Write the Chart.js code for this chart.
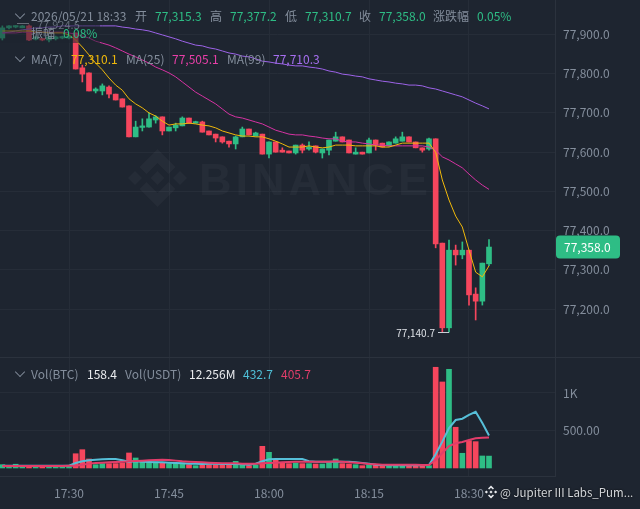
<!DOCTYPE html>
<html>
<head>
<meta charset="utf-8">
<script src="https://cdn.jsdelivr.net/npm/chart.js@4"></script>
<style>
  html, body { margin: 0; padding: 0; background: #1e2530; width: 640px; height: 509px; overflow: hidden; }
  body { position: relative; font-family: "Noto Sans CJK SC", "Noto Sans", sans-serif; font-size: 12px; }
  canvas { position: absolute; left: 0; }
  #priceChart { top: 0; }
  #volumeChart { top: 357px; }
  .t { position: absolute; white-space: nowrap; line-height: 16px; color: #848e9c; }
  .up { color: #2ebd85; }
  .dim { position: absolute; left: 0; top: 24px; width: 100px; height: 19px; background: rgba(30, 37, 48, 0.55); }
  .chev { position: absolute; left: 16px; width: 7px; height: 7px; border-right: 1px solid #848e9c; border-bottom: 1px solid #848e9c; transform: rotate(45deg) scale(0.9); }
  .rule { position: absolute; left: 0; top: 357px; width: 640px; height: 1px; background: #2b323d; }
</style>
</head>
<body>
<canvas id="priceChart" width="640" height="357"></canvas>
<canvas id="volumeChart" width="640" height="152"></canvas>
<div class="rule"></div>
<div class="dim"></div>

<div class="chev" style="top:10px"></div>
<span class="t" style="left:31px;top:8px">2026/05/21 18:33</span>
<span class="t" style="left:135px;top:8px">开</span><span class="t up" style="left:155px;top:8px">77,315.3</span>
<span class="t" style="left:210px;top:8px">高</span><span class="t up" style="left:230px;top:8px">77,377.2</span>
<span class="t" style="left:285px;top:8px">低</span><span class="t up" style="left:305px;top:8px">77,310.7</span>
<span class="t" style="left:359px;top:8px">收</span><span class="t up" style="left:379px;top:8px">77,358.0</span>
<span class="t" style="left:433px;top:8px">涨跌幅</span><span class="t up" style="left:477px;top:8px">0.05%</span>
<span class="t" style="left:37px;top:16px;font-size:11px;opacity:.7">77,924.5</span>
<span class="t" style="left:31px;top:25px">振幅</span><span class="t up" style="left:63px;top:25px">0.08%</span>

<div class="chev" style="top:53px"></div>
<span class="t" style="left:31px;top:51px">MA(7)</span><span class="t" style="left:71px;top:51px;color:#f0b90b">77,310.1</span>
<span class="t" style="left:126px;top:51px">MA(25)</span><span class="t" style="left:172px;top:51px;color:#e83fa8">77,505.1</span>
<span class="t" style="left:227px;top:51px">MA(99)</span><span class="t" style="left:273px;top:51px;color:#a66ff0">77,710.3</span>

<div class="chev" style="top:368px"></div>
<span class="t" style="left:31px;top:366px">Vol(BTC)</span><span class="t" style="left:87px;top:366px;color:#eaecef">158.4</span>
<span class="t" style="left:125px;top:366px">Vol(USDT)</span><span class="t" style="left:189px;top:366px;color:#eaecef">12.256M</span>
<span class="t" style="left:243px;top:366px;color:#4fc0d8">432.7</span><span class="t" style="left:281px;top:366px;color:#e23d6a">405.7</span>

<svg style="position:absolute;left:484px;top:485px" width="14" height="14" viewBox="0 0 14 14" fill="#eaecef">
  <path d="M7 0.5 10 3.5 8.9 4.6 7 2.7 5.1 4.6 4 3.5ZM7 13.5 4 10.5 5.1 9.4 7 11.3 8.9 9.4 10 10.5ZM7 5.4 8.6 7 7 8.6 5.4 7ZM2.4 5.4 4 7 2.4 8.6 0.8 7ZM11.6 5.4 13.2 7 11.6 8.6 10 7Z"/>
</svg>
<span class="t" style="left:500px;top:484px;font-size:11.5px;color:#d5d8dc;text-shadow:0 0 2px #000">@ Jupiter III Labs_Pum...</span>

<script>
// one candle per minute, first one at 17:20
const firstMinute = -10;
const timeTickMinutes = [0, 15, 30, 45, 60];
const timeTickLabels = ['17:30', '17:45', '18:00', '18:15', '18:30'];
const priceTicks = [77200, 77300, 77400, 77500, 77600, 77700, 77800, 77900];
const volumeTicks = [500, 1000];
const volumeTickLabels = ['500.00', '1K'];

const opens = [77891,77917,77919,77917,77922,77888,77889,77886,77889,77891,77891,77904,77815,77802,77756,77756,77766,77748,77736,77718,
  77639,77663,77664,77682,77690,77654,77662,77667,77687,77674,77677,77654,77646,77639,77628,77621,77639,77659,77641,77646,
  77595,77626,77605,77603,77598,77618,77608,77616,77598,77605,77628,77639,77631,77595,77600,77598,77631,77623,77616,77623,
  77628,77639,77626,77611,77608,77634,77368,77152,77350,77338,77350,77238,77220,77315.3];
const closes = [77917,77922,77922,77922,77886,77894,77886,77894,77894,77894,77896,77812,77799,77756,77761,77769,77748,77733,77715,77639,
  77664,77667,77685,77690,77654,77664,77669,77687,77674,77677,77651,77644,77636,77626,77621,77639,77659,77644,77649,77595,
  77626,77600,77600,77598,77618,77605,77613,77600,77608,77631,77639,77626,77598,77600,77595,77631,77618,77613,77626,77634,
  77639,77626,77611,77605,77634,77366,77152,77350,77338,77350,77236,77220,77317,77358];
const highs = [77922,77923,77923,77923,77924.5,77896,77889,77896,77896,77896,77899,77904,77822,77802,77764,77774,77769,77748,77736,77718,
  77679,77685,77700,77693,77690,77664,77674,77690,77687,77679,77679,77654,77646,77639,77628,77641,77664,77659,77651,77646,
  77626,77626,77611,77603,77618,77621,77626,77616,77608,77631,77651,77639,77631,77611,77600,77636,77631,77623,77626,77639,
  77651,77639,77626,77611,77636,77634,77368,77376,77363,77371,77350,77254,77317,77377.2];
const lows = [77886,77914,77917,77917,77884,77886,77884,77881,77886,77889,77889,77812,77779,77756,77751,77746,77738,77733,77715,77639,
  77639,77654,77664,77674,77644,77654,77654,77667,77674,77674,77651,77644,77626,77623,77613,77608,77639,77644,77641,77595,
  77585,77600,77600,77598,77595,77598,77605,77598,77585,77593,77628,77626,77598,77595,77595,77598,77605,77613,77616,77623,
  77628,77626,77611,77600,77605,77356,77141,77140.7,77312,77328,77210,77172,77210,77310.7];

const ma7 = [77909,77909,77909,77909,77909,77906,77906,77904,77904,77904,77899,77886,77868,77848,77827,77810,77789,77771,77758,77736,
  77723,77713,77700,77692,77679,77669,77672,77672,77674,77672,77669,77667,77662,77654,77649,77644,77641,77641,77639,77639,
  77634,77628,77621,77613,77613,77613,77616,77613,77611,77613,77618,77618,77618,77616,77616,77616,77616,77613,77613,77618,
  77623,77623,77623,77623,77623,77600,77529,77478,77437,77409,77350,77294,77282,77310.1];
const ma25 = [77904,77904,77904,77906,77906,77906,77906,77906,77906,77906,77904,77901,77896,77891,77883,77878,77873,77866,77858,77850,
  77843,77835,77827,77817,77810,77802,77792,77779,77766,77753,77743,77733,77723,77710,77697,77690,77687,77682,77677,77672,
  77664,77656,77651,77646,77644,77644,77641,77639,77636,77634,77634,77628,77626,77626,77623,77621,77618,77618,77616,77616,
  77616,77616,77616,77616,77613,77605,77588,77580,77570,77560,77544,77529,77516,77505.1];
const ma99 = [77904,77906,77909,77912,77914,77917,77917,77919,77919,77922,77922,77922,77922,77922,77922,77922,77922,77922,77919,77917,
  77914,77912,77909,77904,77899,77894,77889,77883,77878,77873,77871,77866,77863,77858,77853,77850,77845,77843,77838,77832,
  77830,77827,77825,77822,77820,77820,77817,77815,77812,77807,77804,77799,77797,77794,77792,77787,77784,77781,77779,77776,
  77774,77771,77771,77769,77764,77761,77756,77751,77746,77741,77733,77725,77718,77710.3];

const volumes = [44,22,50,22,22,20,22,20,20,20,20,190,244,120,44,58,58,58,67,200,
  133,80,80,80,75,58,67,67,44,31,44,44,44,44,50,89,44,31,40,289,
  209,102,75,58,67,58,58,53,53,75,120,58,53,44,31,44,40,36,36,31,
  31,31,31,31,31,1343,1147,1316,543,196,364,351,160,158.4];
const volumeMaFast = [31,31,31,31,31,31,31,31,31,31,31,67,89,102,111,115,120,120,102,84,
  89,84,80,75,75,71,67,62,58,58,53,58,58,53,53,53,49,44,58,89,
  115,120,120,120,120,120,89,84,84,84,84,84,84,75,67,58,44,40,36,36,
  36,36,36,36,40,183,351,533,640,657,707,750,600,432.7];
const volumeMaSlow = [27,27,27,27,27,27,27,27,27,27,31,31,44,58,67,71,75,80,84,89,
  93,98,102,107,111,107,98,89,84,80,75,71,67,62,62,62,58,58,58,62,
  67,71,75,80,84,84,84,84,84,84,89,84,75,71,62,53,49,44,44,44,
  44,44,44,40,40,107,200,293,329,347,373,396,404,405.7];

const upColor = '#2ebd85';
const downColor = '#f6465d';
const gridColor = '#262d38';
const axisColor = '#2b323d';
const tickColor = '#848e9c';
const fontFamily = '"Noto Sans CJK SC", "Noto Sans", sans-serif';

const minuteOf = i => firstMinute + i;
const candleColors = closes.map((c, i) => (c >= opens[i] ? upColor : downColor));
const toPoints = (arr) => arr.map((v, i) => ({ x: minuteOf(i), y: v }));
const formatPrice = v => v.toLocaleString('en-US', { minimumFractionDigits: 1, maximumFractionDigits: 1 });

function timeAxis(showLabels) {
    return {
        type: 'linear',
        offset: false,
        min: -10.35,
        max: 72.9,
        afterBuildTicks: scale => { scale.ticks = timeTickMinutes.map(value => ({ value })); },
        afterFit: scale => {
            scale.paddingLeft = 0;
            scale.paddingRight = 0;
            scale.height = showLabels ? 33 : 0;
        },
        grid: { color: gridColor, drawTicks: false, offset: false },
        border: { display: showLabels, color: axisColor },
        ticks: {
            display: showLabels,
            autoSkip: false,
            maxRotation: 0,
            padding: 10,
            color: tickColor,
            font: { family: fontFamily, size: 12 },
            callback: value => timeTickLabels[timeTickMinutes.indexOf(value)]
        }
    };
}

function valueAxis(min, max, tickValues, labelOf) {
    return {
        position: 'right',
        min: min,
        max: max,
        afterBuildTicks: scale => { scale.ticks = tickValues.map(value => ({ value })); },
        afterFit: scale => {
            scale.width = 85;
            scale.paddingTop = 0;
            scale.paddingBottom = 0;
        },
        grid: { color: gridColor, drawTicks: false },
        border: { color: axisColor },
        ticks: {
            padding: 8,
            color: tickColor,
            font: { family: fontFamily, size: 12 },
            callback: labelOf
        }
    };
}

function maLine(values, color, width) {
    return {
        type: 'line',
        data: toPoints(values),
        borderColor: color,
        borderWidth: width,
        pointRadius: 0,
        tension: 0,
        order: 0
    };
}

// faint logo and name behind the candles
const watermark = {
    id: 'watermark',
    beforeDatasetsDraw(chart) {
        const ctx = chart.ctx;
        ctx.save();
        ctx.fillStyle = 'rgba(255,255,255,0.035)';
        const diamond = (cx, cy, r) => {
            ctx.beginPath();
            ctx.moveTo(cx, cy - r);
            ctx.lineTo(cx + r, cy);
            ctx.lineTo(cx, cy + r);
            ctx.lineTo(cx - r, cy);
            ctx.closePath();
            ctx.fill();
        };
        const chevron = (cx, cy, dir) => {
            ctx.beginPath();
            ctx.moveTo(cx, cy + dir * 29);
            ctx.lineTo(cx + 18, cy + dir * 11);
            ctx.lineTo(cx + 11, cy + dir * 4);
            ctx.lineTo(cx, cy + dir * 15);
            ctx.lineTo(cx - 11, cy + dir * 4);
            ctx.lineTo(cx - 18, cy + dir * 11);
            ctx.closePath();
            ctx.fill();
        };
        diamond(157.5, 178, 7);
        diamond(135, 178, 7);
        diamond(180, 178, 7);
        chevron(157.5, 178, -1);
        chevron(157.5, 178, 1);
        ctx.font = 'bold 45px "Liberation Sans", sans-serif';
        ctx.letterSpacing = '4px';
        ctx.textBaseline = 'alphabetic';
        ctx.fillText('BINANCE', 199, 195);
        ctx.restore();
    }
};

// high / low callouts and the last price tag
const priceMarks = {
    id: 'priceMarks',
    afterDraw(chart) {
        const ctx = chart.ctx;
        const xs = chart.scales.x;
        const ys = chart.scales.y;
        const last = closes.length - 1;
        ctx.save();

        const lowIndex = lows.indexOf(Math.min(...lows));
        const lowX = xs.getPixelForValue(minuteOf(lowIndex));
        const lowY = Math.round(ys.getPixelForValue(lows[lowIndex])) + 0.5;
        ctx.strokeStyle = '#c9ced6';
        ctx.lineWidth = 1;
        ctx.beginPath();
        ctx.moveTo(lowX - 11, lowY);
        ctx.lineTo(lowX, lowY);
        ctx.stroke();
        ctx.fillStyle = '#dfe3e8';
        ctx.font = '10px ' + fontFamily;
        ctx.textAlign = 'right';
        ctx.textBaseline = 'middle';
        ctx.fillText(formatPrice(lows[lowIndex]), lowX - 14, lowY + 1);

        const highIndex = highs.indexOf(Math.max(...highs));
        const highX = xs.getPixelForValue(minuteOf(highIndex));
        const highY = Math.round(ys.getPixelForValue(highs[highIndex])) - 1.5;
        ctx.strokeStyle = 'rgba(150,155,165,0.6)';
        ctx.beginPath();
        ctx.moveTo(highX - 12, highY);
        ctx.lineTo(highX, highY);
        ctx.stroke();

        const tagY = ys.getPixelForValue(closes[last]);
        ctx.fillStyle = upColor;
        ctx.beginPath();
        ctx.roundRect(556, tagY - 11.5, 64, 23, 4);
        ctx.fill();
        ctx.fillStyle = '#ffffff';
        ctx.font = '12px ' + fontFamily;
        ctx.textAlign = 'left';
        ctx.fillText(formatPrice(closes[last]), 564, tagY + 0.5);
        ctx.restore();
    }
};

new Chart(document.getElementById('priceChart'), {
    data: {
        datasets: [
            maLine(ma7, '#f0b90b', 1),
            maLine(ma25, '#d633a3', 1),
            maLine(ma99, '#9d63e8', 1),
            {
                type: 'bar',
                data: opens.map((o, i) => ({ x: minuteOf(i), y: [o, closes[i]] })),
                backgroundColor: candleColors,
                barThickness: 5,
                minBarLength: 1.5,
                grouped: false,
                order: 1
            },
            {
                type: 'bar',
                data: lows.map((l, i) => ({ x: minuteOf(i), y: [l, highs[i]] })),
                backgroundColor: candleColors,
                barThickness: 1,
                grouped: false,
                order: 2
            }
        ]
    },
    options: {
        responsive: false,
        animation: false,
        layout: { padding: 0 },
        plugins: { legend: { display: false }, tooltip: { enabled: false } },
        scales: {
            x: timeAxis(false),
            y: valueAxis(77077.6, 77988, priceTicks, value => formatPrice(value))
        }
    },
    plugins: [watermark, priceMarks]
});

new Chart(document.getElementById('volumeChart'), {
    data: {
        datasets: [
            maLine(volumeMaSlow, '#e23d6a', 2),
            maLine(volumeMaFast, '#56bfd8', 2),
            {
                type: 'bar',
                data: toPoints(volumes),
                backgroundColor: candleColors,
                barThickness: 5,
                grouped: false,
                order: 1
            }
        ]
    },
    options: {
        responsive: false,
        animation: false,
        layout: { padding: 0 },
        plugins: { legend: { display: false }, tooltip: { enabled: false } },
        scales: {
            x: timeAxis(true),
            y: valueAxis(-107, 1480, volumeTicks, value => volumeTickLabels[volumeTicks.indexOf(value)])
        }
    }
});
</script>
</body>
</html>
